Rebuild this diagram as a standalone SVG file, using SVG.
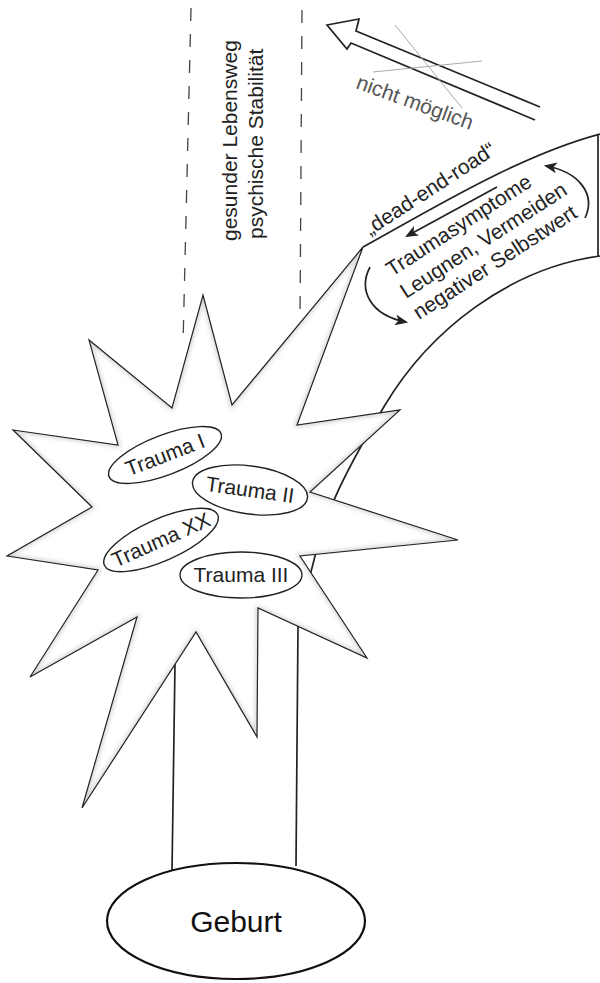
<svg xmlns="http://www.w3.org/2000/svg" width="600" height="983" viewBox="0 0 600 983">
<style>
.txt{font-family:"Liberation Sans",Arial,sans-serif;font-size:21px;fill:#222}
.line{fill:none;stroke:#222;stroke-width:1.7}
.thin{fill:none;stroke:#222;stroke-width:1.2}
.dash{fill:none;stroke:#444;stroke-width:1.3;stroke-dasharray:13 13}
.ell{fill:#fff;stroke:#222;stroke-width:1.4}
</style>
<defs>
<marker id="head" viewBox="0 0 12 10" refX="10" refY="5" markerWidth="13" markerHeight="11" markerUnits="userSpaceOnUse" orient="auto">
<path d="M0,0 L12,5 L0,10 L3,5 Z" fill="#222"/>
</marker>
<clipPath id="starclip">
<polygon points="203,295 232,405 363,247 297,425 400,410 310,492 458,540 300,556 367,658 258,608 257,737 196,632 82,808 137,617 30,677 98,570 7,556 92,507 13,430 118,445 89,340 172,408"/>
</clipPath>
<filter id="blur" x="-10%" y="-10%" width="120%" height="120%"><feGaussianBlur stdDeviation="2"/></filter>
</defs>

<g id="background-paths">
<line class="dash" x1="191" y1="8" x2="183" y2="345"/>
<line class="dash" x1="302" y1="10" x2="300" y2="322"/>
<text class="txt" transform="translate(237,241) rotate(-90)">gesunder Lebensweg</text>
<text class="txt" transform="translate(263,239) rotate(-90)">psychische Stabilität</text>
</g>

<g id="not-possible-arrow">
<path class="line" d="M540,107 L356,31 L359,19 L327,25 L347,49 L351,43 L535,120"/>
<line x1="395" y1="25" x2="462" y2="108" stroke="#aaa" stroke-width="1"/>
<line x1="373" y1="72" x2="482" y2="61" stroke="#aaa" stroke-width="1"/>
<text class="txt" style="fill:#555" transform="translate(355,88) rotate(20)">nicht möglich</text>
</g>

<g id="dead-end-road">
<path class="line" d="M363,247 C430,210 520,155 600,134"/>
<path class="line" d="M600,256 C510,268 430,330 385,405 S320,520 305,600"/>
<line class="line" x1="598" y1="134" x2="598" y2="256"/>
<text class="txt" transform="translate(370,236) rotate(-33)">„dead-end-road“</text>
<text class="txt" transform="translate(392,277) rotate(-33)">Traumasymptome</text>
<text class="txt" transform="translate(406,299) rotate(-33)">Leugnen, Vermeiden</text>
<text class="txt" transform="translate(419,320) rotate(-33)">negativer Selbstwert</text>
</g>

<g id="connectors">
<line class="line" x1="497" y1="187" x2="407" y2="236" marker-end="url(#head)"/>
<path class="line" d="M585,218 C596,195 580,172 546,166" marker-end="url(#head)"/>
<path class="line" d="M370,267 C358,290 370,315 406,322" marker-end="url(#head)"/>
<line class="line" x1="175" y1="663" x2="172" y2="872"/>
<line class="line" x1="298" y1="626" x2="296" y2="866"/>
</g>

<g id="trauma-star">
<polygon points="203,295 232,405 363,247 297,425 400,410 310,492 458,540 300,556 367,658 258,608 257,737 196,632 82,808 137,617 30,677 98,570 7,556 92,507 13,430 118,445 89,340 172,408" fill="#fff"/>
<polygon points="203,295 232,405 363,247 297,425 400,410 310,492 458,540 300,556 367,658 258,608 257,737 196,632 82,808 137,617 30,677 98,570 7,556 92,507 13,430 118,445 89,340 172,408" fill="none" stroke="#d0d0d0" stroke-width="4" filter="url(#blur)" clip-path="url(#starclip)"/>
<polygon points="203,295 232,405 363,247 297,425 400,410 310,492 458,540 300,556 367,658 258,608 257,737 196,632 82,808 137,617 30,677 98,570 7,556 92,507 13,430 118,445 89,340 172,408" class="thin"/>
</g>

<g id="trauma-1">
<ellipse class="ell" cx="0" cy="0" rx="60" ry="20" transform="translate(165,455) rotate(-21)"/>
<text class="txt" text-anchor="middle" transform="translate(165,455) rotate(-21)" y="7">Trauma I</text>
</g>
<g id="trauma-2">
<ellipse class="ell" cx="0" cy="0" rx="58" ry="24" transform="translate(250,490) rotate(8)"/>
<text class="txt" text-anchor="middle" transform="translate(250,490) rotate(8)" y="7">Trauma II</text>
</g>
<g id="trauma-xx">
<ellipse class="ell" cx="0" cy="0" rx="62" ry="21" transform="translate(161,540) rotate(-24)"/>
<text class="txt" text-anchor="middle" transform="translate(161,540) rotate(-24)" y="7">Trauma XX</text>
</g>
<g id="trauma-3">
<ellipse class="ell" cx="241" cy="575" rx="61" ry="23"/>
<text class="txt" text-anchor="middle" x="241" y="582">Trauma III</text>
</g>

<g id="geburt">
<ellipse cx="236" cy="921" rx="129" ry="58" fill="#fff" stroke="#111" stroke-width="2.2"/>
<text class="txt" style="font-size:30px;fill:#111" text-anchor="middle" x="236" y="932">Geburt</text>
</g>
</svg>
